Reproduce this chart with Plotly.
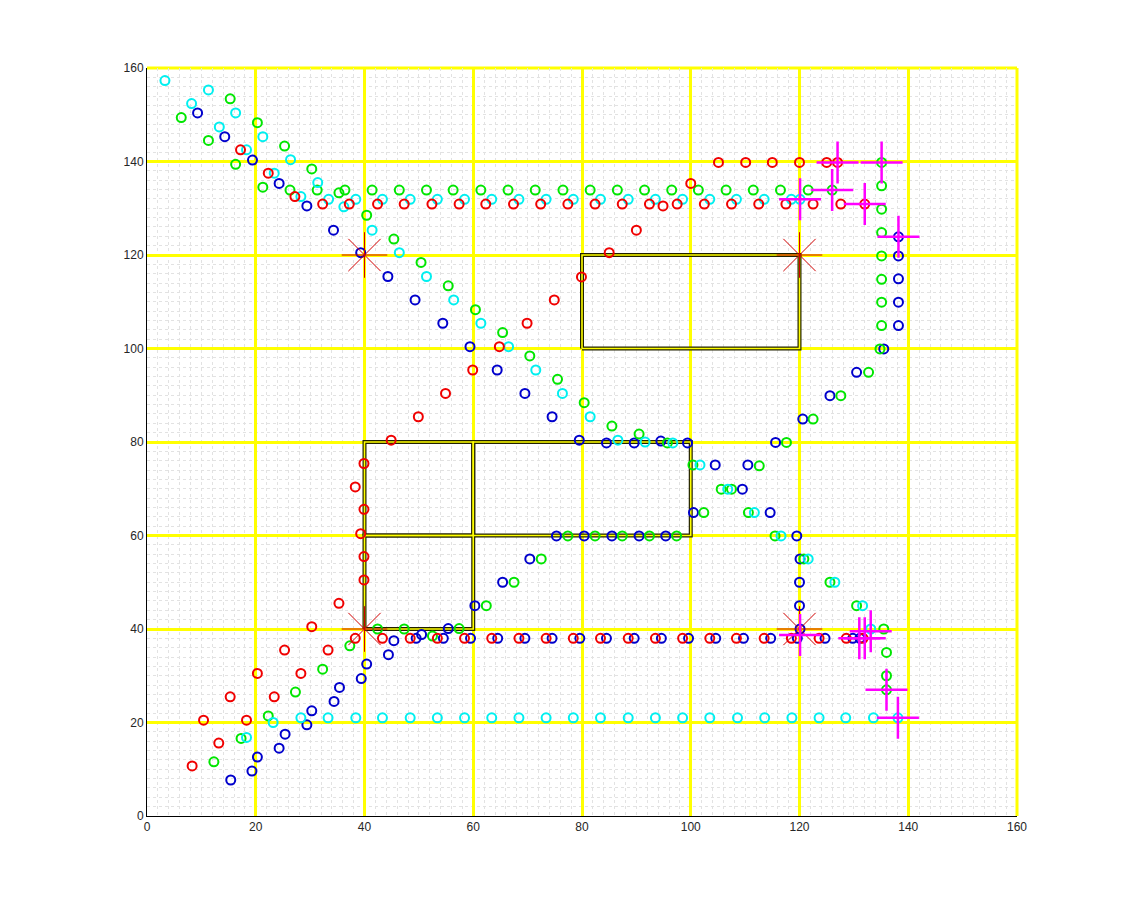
import plotly.graph_objects as go

# robot tracks, one pair of lists per colour
red_x = [17.2, 22.3, 27.2, 32.3, 37.2, 42.4, 47.3, 52.4, 57.4, 62.3, 67.4, 72.4, 77.4, 82.4, 87.4,
         92.4, 97.5, 102.5, 107.5, 112.5, 117.5, 122.5, 127.6, 132.0,
         105.1, 110.1, 115.0, 120.0, 125.0, 127.0,
         100.0, 94.9, 90.0, 85.0, 79.9, 74.9, 69.9, 64.8, 59.9, 54.9, 49.9, 44.9, 39.9, 38.3, 39.9,
         39.3, 39.9, 39.9, 35.3, 30.3, 25.3, 20.3, 15.3, 10.4,
         8.3, 13.2, 18.3, 23.4, 28.3, 33.3, 38.3, 43.3, 48.4, 53.4, 58.4, 63.4, 68.4, 73.4, 78.4,
         83.4, 88.5, 93.5, 98.5, 103.5, 108.4, 113.5, 118.5, 123.6, 128.6, 131.7]
red_y = [142.5, 137.5, 132.5, 130.9, 130.9, 130.9, 130.9, 130.9, 130.9, 130.9, 130.9, 130.9, 130.9, 130.9, 130.9,
         130.9, 130.9, 130.9, 130.9, 130.9, 130.9, 130.9, 130.9, 130.9,
         139.8, 139.8, 139.8, 139.8, 139.8, 139.8,
         135.3, 130.5, 125.3, 120.5, 115.3, 110.4, 105.4, 100.4, 95.4, 90.4, 85.4, 80.4, 75.4, 70.4, 65.6,
         60.4, 55.5, 50.5, 45.5, 40.5, 35.5, 30.5, 25.5, 20.5,
         10.7, 15.6, 20.5, 25.5, 30.5, 35.5, 38.0, 38.0, 38.0, 38.0, 38.0, 38.0, 38.0, 38.0, 38.0,
         38.0, 38.0, 38.0, 38.0, 38.0, 38.0, 38.0, 38.0, 38.0, 38.0, 38.0]

green_x = [6.3, 11.3, 16.3, 21.3, 26.3, 31.3, 36.4, 41.4, 46.4, 51.4, 56.3, 61.4, 66.4, 71.4, 76.5,
           81.5, 86.5, 91.5, 96.5, 101.4, 106.5, 111.5, 116.5, 121.6, 126.0,
           135.1, 135.1, 135.1, 135.1, 135.1, 135.1, 135.1, 135.1, 134.8,
           132.7, 127.6, 122.5, 117.6, 112.6, 107.5, 102.4, 97.4, 92.4, 87.4, 82.4, 77.4,
           72.5, 67.5, 62.4, 57.4, 52.5, 47.3, 42.4, 37.3, 32.3, 27.3, 22.3, 17.3, 12.3,
           15.3, 20.3, 25.3, 30.3, 35.3, 40.4, 45.4, 50.4, 55.4, 60.4, 65.4, 70.4, 75.5, 80.4,
           85.5, 90.5, 95.7, 100.4, 105.6, 110.6, 115.5, 120.8, 125.6, 130.5, 135.5, 136.0, 136.0, 136.0]
green_y = [149.4, 144.5, 139.4, 134.5, 133.9, 133.9, 133.9, 133.9, 133.9, 133.9, 133.9, 133.9, 133.9, 133.9, 133.9,
           133.9, 133.9, 133.9, 133.9, 133.9, 133.9, 133.9, 133.9, 133.9, 133.9,
           139.8, 134.8, 129.8, 124.8, 119.8, 114.8, 109.9, 104.9, 99.9,
           94.9, 89.9, 84.9, 79.9, 74.9, 69.9, 64.9, 59.9, 59.9, 59.9, 59.9, 59.9,
           55.0, 50.0, 45.0, 40.1, 38.5, 40.0, 40.0, 36.4, 31.4, 26.5, 21.4, 16.6, 11.6,
           153.4, 148.3, 143.3, 138.4, 133.3, 128.5, 123.4, 118.4, 113.4, 108.3, 103.4, 98.4, 93.4, 88.4,
           83.4, 81.7, 79.8, 75.1, 69.9, 64.9, 59.9, 55.0, 50.0, 45.0, 40.0, 35.0, 30.0, 27.0]

cyan_x = [3.3, 8.2, 13.3, 18.3, 23.4, 28.3, 33.4, 38.4, 43.3, 48.4, 53.4, 58.4, 63.4, 68.4, 73.4,
          78.4, 83.4, 88.5, 93.5, 98.5, 103.5, 108.4, 113.5, 118.5, 120.1,
          11.3, 16.3, 21.3, 26.4, 31.4, 36.2, 41.4, 46.4, 51.4, 56.4, 61.4, 66.5, 71.5, 76.4, 81.5,
          86.6, 91.6, 96.7, 101.7, 106.8, 111.7, 116.6, 121.6, 126.5, 131.6, 133.1,
          18.3, 23.2, 28.3, 33.3, 38.4, 43.3, 48.4, 53.4, 58.4, 63.4, 68.4, 73.4, 78.4, 83.4,
          88.5, 93.5, 98.5, 103.5, 108.6, 113.6, 118.6, 123.6, 128.5, 133.6, 138.1]
cyan_y = [157.3, 152.4, 147.4, 142.5, 137.5, 132.5, 131.9, 131.9, 131.9, 131.9, 131.9, 131.9, 131.9, 131.9, 131.9,
          131.9, 131.9, 131.9, 131.9, 131.9, 131.9, 131.9, 131.9, 131.9, 131.9,
          155.3, 150.4, 145.3, 140.4, 135.5, 130.3, 125.3, 120.5, 115.4, 110.4, 105.4, 100.4, 95.4, 90.4, 85.4,
          80.4, 80.0, 79.8, 75.1, 69.9, 64.9, 59.9, 55.0, 50.0, 45.0, 40.0,
          16.8, 20.0, 21.0, 21.0, 21.0, 21.0, 21.0, 21.0, 21.0, 21.0, 21.0, 21.0, 21.0, 21.0,
          21.0, 21.0, 21.0, 21.0, 21.0, 21.0, 21.0, 21.0, 21.0, 21.0, 21.0]

blue_x = [9.3, 14.3, 19.4, 24.3, 29.4, 34.3, 39.3, 44.3, 49.3, 54.4, 59.4, 64.4, 69.5, 74.5, 79.5,
          84.5, 89.6, 94.5, 99.4, 104.5, 109.5, 114.6, 119.5, 120.1, 120.0, 120.0, 120.1,
          138.2, 138.2, 138.2, 138.2, 138.2, 135.5, 130.5, 125.6, 120.6, 115.6, 110.5, 100.5,
          95.4, 90.5, 85.5, 80.4, 75.3, 70.4, 65.4, 60.3, 55.4, 50.5, 45.4, 40.4, 35.4, 30.3, 25.4, 20.3, 15.4,
          19.3, 24.3, 29.4, 34.4, 39.4, 44.4, 49.5, 54.5, 59.5, 64.5, 69.5, 74.5, 79.6, 84.5, 89.6,
          94.6, 99.6, 104.6, 109.7, 114.7, 119.6, 124.7, 129.8, 131.1]
blue_y = [150.4, 145.3, 140.3, 135.3, 130.5, 125.3, 120.5, 115.4, 110.4, 105.4, 100.4, 95.4, 90.4, 85.4, 80.4,
          79.8, 79.8, 80.2, 79.8, 75.1, 69.9, 64.9, 59.9, 55.0, 50.0, 45.0, 40.0,
          123.9, 119.8, 114.9, 109.9, 104.9, 99.9, 94.9, 89.9, 84.9, 79.9, 75.1, 64.9,
          59.9, 59.9, 59.9, 59.9, 59.9, 55.0, 50.0, 45.0, 40.1, 38.8, 37.5, 32.5, 27.5, 22.5, 17.5, 12.6, 7.7,
          9.6, 14.5, 19.5, 24.5, 29.4, 34.5, 38.0, 38.0, 38.0, 38.0, 38.0, 38.0, 38.0, 38.0, 38.0,
          38.0, 38.0, 38.0, 38.0, 38.0, 38.0, 38.0, 38.0, 38.0]

# landmarks (red stars) and measured positions (magenta crosses)
star_x = [40, 120, 40, 120]
star_y = [120, 120, 40, 40]
cross_x = [127.0, 135.1, 126.0, 120.1, 132.0, 138.2, 120.1, 131.0, 132.0, 133.1, 136.0, 138.1]
cross_y = [139.8, 139.8, 133.9, 131.9, 130.9, 123.9, 38.7, 38.0, 38.0, 39.5, 27.0, 21.0]

# walls as (x0, y0, x1, y1)
walls = [(80, 100, 120, 120), (40, 40, 60, 60), (40, 60, 60, 80), (60, 60, 100, 80)]

wall_x, wall_y = [], []
for x0, y0, x1, y1 in walls:
    wall_x += [x0, x1, x1, x0, x0, None]
    wall_y += [y0, y0, y1, y1, y0, None]

fig = go.Figure()
fig.add_trace(go.Scatter(x=wall_x, y=wall_y, mode='lines', line=dict(color='#202000', width=4)))
fig.add_trace(go.Scatter(x=wall_x, y=wall_y, mode='lines', line=dict(color='#FFFF00', width=1.6)))

for xs, ys, col in [(blue_x, blue_y, '#0000CC'), (green_x, green_y, '#00E600'),
                    (cyan_x, cyan_y, '#00F0F0'), (red_x, red_y, '#F00000')]:
    fig.add_trace(go.Scatter(x=xs, y=ys, mode='markers',
                             marker=dict(symbol='circle-open', size=9, color=col, line=dict(width=2))))

fig.add_trace(go.Scatter(x=star_x, y=star_y, mode='markers',
                         marker=dict(symbol='asterisk-open', size=38, color='#D00000', line=dict(width=1))))
fig.add_trace(go.Scatter(x=cross_x, y=cross_y, mode='markers',
                         marker=dict(symbol='cross-thin-open', size=30, color='#FF00FF', line=dict(width=2.5))))

axis = dict(range=[0, 160], dtick=20, showgrid=True, gridcolor='#FFFF00', gridwidth=3,
            zeroline=False, showline=True, linecolor='black', linewidth=1, mirror=False,
            ticks='', tickfont=dict(family='Liberation Sans, Arial', size=12, color='#262626'),
            minor=dict(dtick=2, showgrid=True, gridcolor='#E2E2E2', griddash='dot', gridwidth=1))

fig.update_layout(width=1125, height=917, showlegend=False,
                  margin=dict(l=139, r=116, t=60, b=109),
                  plot_bgcolor='white', paper_bgcolor='white',
                  xaxis=axis, yaxis=axis)

# yellow border on the top and right edges
fig.add_shape(type='line', xref='paper', yref='paper', x0=0, x1=1, y0=1, y1=1,
              line=dict(color='#FFFF00', width=3), layer='below')
fig.add_shape(type='line', xref='paper', yref='paper', x0=1, x1=1, y0=0, y1=1,
              line=dict(color='#FFFF00', width=3), layer='below')

fig.write_html("out.html")
